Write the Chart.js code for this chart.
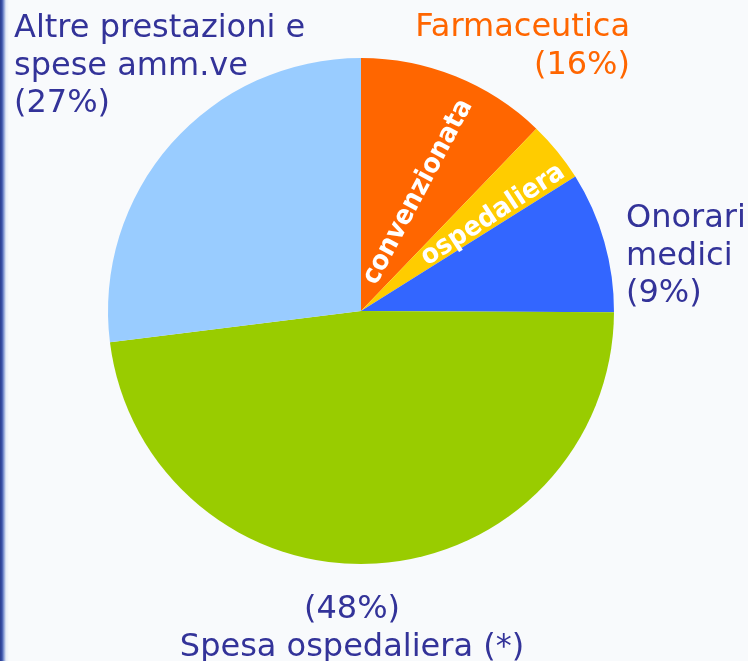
<!DOCTYPE html>
<html>
<head>
<meta charset="utf-8">
<script src="https://cdn.jsdelivr.net/npm/chart.js@4/dist/chart.umd.min.js"></script>
<style>
  html, body { margin: 0; padding: 0; }
  body {
    width: 748px; height: 661px; overflow: hidden;
    background: linear-gradient(to right, #2a3c8c 0px, #3a52a8 2px, #8fa3d8 4px, #e6ecf6 6px, #f8fafc 9px, #f8fafc 100%);
  }
  #wrap { position: relative; width: 748px; height: 661px; }
</style>
</head>
<body>
<div id="wrap"><canvas id="pie" width="748" height="661"></canvas></div>
<script>
// slices, clockwise from 12 o'clock
const categories = ['Farmaceutica convenzionata', 'Farmaceutica ospedaliera', 'Onorari medici', 'Spesa ospedaliera (*)', 'Altre prestazioni e spese amm.ve'];
const values = [12.2, 3.9, 9, 48, 27];
const colors = ['#ff6600', '#ffcc00', '#3366ff', '#99cc00', '#99ccff'];

// text around the pie
const outerLabels = [
    { lines: ['Altre prestazioni e', 'spese amm.ve', '(27%)'], x: 14, y: 37, align: 'left', color: '#333399' },
    { lines: ['Farmaceutica', '(16%)'], x: 630, y: 36, align: 'right', color: '#ff6600' },
    { lines: ['Onorari', 'medici', '(9%)'], x: 626, y: 227, align: 'left', color: '#333399' },
    { lines: ['(48%)', 'Spesa ospedaliera (*)'], x: 352, y: 618, align: 'center', color: '#333399' }
];
const innerLabels = [
    { text: 'convenzionata', x: 418, y: 192, angle: -62 },
    { text: 'ospedaliera', x: 493, y: 215, angle: -33 }
];

const labelPlugin = {
    id: 'labelPlugin',
    afterDraw(chart) {
        const c = chart.ctx;
        c.save();
        c.font = '32px "DejaVu Sans", Verdana, sans-serif';
        c.textBaseline = 'alphabetic';
        for (const lab of outerLabels) {
            c.fillStyle = lab.color;
            c.textAlign = lab.align;
            lab.lines.forEach((t, i) => c.fillText(t, lab.x, lab.y + i * 37.5));
        }
        c.font = 'bold 27px "DejaVu Sans", Verdana, sans-serif';
        c.fillStyle = '#ffffff';
        c.textAlign = 'center';
        c.textBaseline = 'middle';
        for (const lab of innerLabels) {
            c.save();
            c.translate(lab.x, lab.y);
            c.rotate(lab.angle * Math.PI / 180);
            c.scale(0.93, 1); // a little narrower, like the original
            c.fillText(lab.text, 0, 0);
            c.restore();
        }
        c.restore();
    }
};

new Chart(document.getElementById('pie'), {
    type: 'pie',
    data: {
        labels: categories,
        datasets: [{
            data: values,
            backgroundColor: colors,
            borderWidth: 0
        }]
    },
    options: {
        responsive: false,
        animation: false,
        layout: { padding: { left: 108, right: 134, top: 58, bottom: 97 } },
        plugins: {
            legend: { display: false },
            tooltip: { enabled: false }
        }
    },
    plugins: [labelPlugin]
});
</script>
</body>
</html>
